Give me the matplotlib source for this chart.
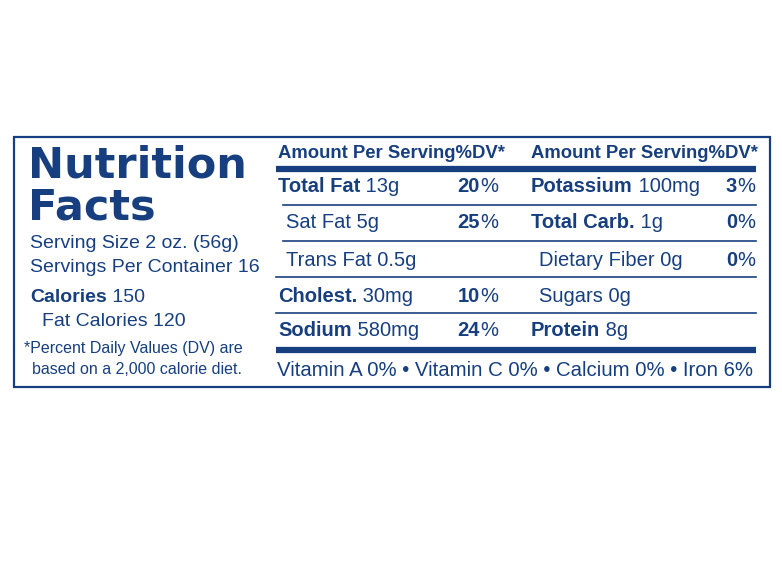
import matplotlib
matplotlib.use("Agg")
import matplotlib.pyplot as plt
from matplotlib import font_manager as fm

names = {f.name for f in fm.fontManager.ttflist}
NARROW = "Liberation Sans Narrow" if "Liberation Sans Narrow" in names else "Liberation Sans"
C = "#173f7f"

title = ["Nutrition", "Facts"]
left_info = ["Serving Size 2 oz. (56g)", "Servings Per Container 16"]
calories = ("Calories", "150")
fat_calories = "Fat Calories 120"
footnote = ["*Percent Daily Values (DV) are", "based on a 2,000 calorie diet."]
header = "Amount Per Serving%DV*"
# (bold label, regular text, %DV, indented)
col1 = [("Total Fat", " 13g", "20%", False), ("", "Sat Fat 5g", "25%", True),
        ("", "Trans Fat 0.5g", "", True), ("Cholest.", " 30mg", "10%", False),
        ("Sodium", " 580mg", "24%", False)]
col2 = [("Potassium", " 100mg", "3%", False), ("Total Carb.", " 1g", "0%", False),
        ("", "Dietary Fiber 0g", "0%", True), ("", "Sugars 0g", "", True),
        ("Protein", " 8g", "", False)]
vitamins = "Vitamin A 0% \u2022 Vitamin C 0% \u2022 Calcium 0% \u2022 Iron 6%"

fig = plt.figure(figsize=(7.82, 5.70), dpi=100)
ax = fig.add_axes([0, 0, 1, 1])
ax.set_xlim(0, 782); ax.set_ylim(570, 0); ax.axis("off")
fig.canvas.draw()
r = fig.canvas.get_renderer()

def seq(x, y, parts, size):
    for txt, bold in parts:
        if not txt:
            continue
        t = ax.text(x, y, txt, fontsize=size, family=NARROW, color=C,
                    fontweight="bold" if bold else "normal", va="center", ha="left")
        bb = t.get_window_extent(r)
        x = ax.transData.inverted().transform((bb.x1, 0))[0]
    return x

ax.add_patch(plt.Rectangle((14, 137), 756, 250, fill=False, ec=C, lw=1.6))

ax.text(28, 166, title[0], fontsize=31, family="DejaVu Sans", fontweight="heavy", color=C, va="center")
ax.text(28, 208, title[1], fontsize=31, family="DejaVu Sans", fontweight="heavy", color=C, va="center")
seq(30, 244, [(left_info[0], False)], 14)
seq(30, 268, [(left_info[1], False)], 14)
seq(30, 297, [(calories[0], True), (" " + calories[1], False)], 14)
seq(42, 321, [(fat_calories, False)], 14)
seq(24, 348, [(footnote[0], False)], 11.5)
seq(32, 370, [(footnote[1], False)], 11.5)

rows_y = [187, 223, 260, 296, 331]
for cx, dvx, col in [(278, 498, col1), (531, 755, col2)]:
    seq(cx, 154, [(header, True)], 13.3)
    for i, (b, rtxt, dv, ind) in enumerate(col):
        seq(cx + (8 if ind else 0), rows_y[i], [(b, True), (rtxt, False)], 14.5)
        if dv:
            t1 = ax.text(dvx, rows_y[i], "%", fontsize=14.5, family=NARROW, color=C, va="center", ha="right")
            bb = t1.get_window_extent(r)
            xx = ax.transData.inverted().transform((bb.x0, 0))[0]
            ax.text(xx, rows_y[i], dv[:-1], fontsize=14.5, family=NARROW, fontweight="bold",
                    color=C, va="center", ha="right")

ax.plot([276, 756], [169, 169], color=C, lw=4.5, solid_capstyle="butt")
ax.plot([276, 756], [350, 350], color=C, lw=4.5, solid_capstyle="butt")
for y, x0 in [(205, 283), (241, 283), (277, 276), (313, 276)]:
    ax.plot([x0, 756], [y, y], color=C, lw=1.2)

seq(277, 371, [(vitamins, False)], 14.7)

fig.savefig("out.png", dpi=100)
